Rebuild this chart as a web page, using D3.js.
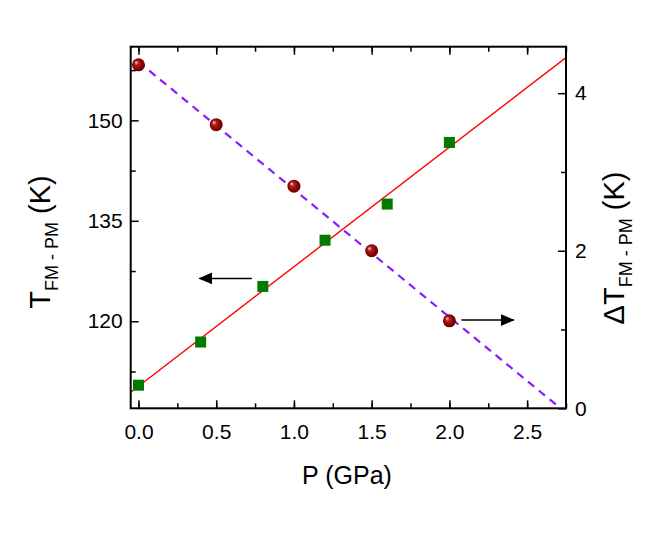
<!DOCTYPE html>
<html><head><meta charset="utf-8">
<script src="https://cdn.jsdelivr.net/npm/d3@7"></script>
<style>body{margin:0;background:#fff}svg{display:block}text{font-family:"Liberation Sans",Arial,sans-serif;fill:#000}</style>
</head><body><svg id="c" width="654" height="545"></svg>
<script>
// ---- data ----
const squareP = [0.0, 0.4, 0.8, 1.2, 1.6, 2.0];
const squareT = [110.45, 116.9, 125.2, 132.1, 137.5, 146.7];
const circleP = [0.0, 0.5, 1.0, 1.5, 2.0];
const circleDT = [4.36, 3.60, 2.82, 2.00, 1.11];
const xTicks = [0.0, 0.5, 1.0, 1.5, 2.0, 2.5];
const xTickLabels = ["0.0", "0.5", "1.0", "1.5", "2.0", "2.5"];
const yLeftTicks = [120, 135, 150];
const yRightTicks = [0, 2, 4];

const svg = d3.select("#c");
const L = 130.7, R = 566, T = 46.7, B = 408.3;
const x = d3.scaleLinear().domain([-0.05, 2.75]).range([L, R]);
const yL = d3.scaleLinear().domain([107, 161]).range([B, T]);
const yR = d3.scaleLinear().domain([0, 4.59]).range([B, T]);

function linfit(xs, ys) {
  const n = xs.length, mx = d3.mean(xs), my = d3.mean(ys);
  let sxy = 0, sxx = 0;
  for (let i = 0; i < n; i++) { sxy += (xs[i]-mx)*(ys[i]-my); sxx += (xs[i]-mx)**2; }
  const b = sxy/sxx; return {a: my - b*mx, b};
}

const defs = svg.append("defs");
defs.append("clipPath").attr("id","clip").append("rect")
  .attr("x", L).attr("y", T).attr("width", R-L).attr("height", B-T);
const g = defs.append("radialGradient").attr("id","ball")
  .attr("cx","0.5").attr("cy","0.5").attr("r","0.55").attr("fx","0.3").attr("fy","0.3");
g.append("stop").attr("offset","0").attr("stop-color","#f4d8e4");
g.append("stop").attr("offset","0.3").attr("stop-color","#b02020");
g.append("stop").attr("offset","0.7").attr("stop-color","#8a0000");
g.append("stop").attr("offset","1").attr("stop-color","#5a0000");
const mk = defs.append("marker").attr("id","arr").attr("viewBox","0 0 14 12")
  .attr("refX",13).attr("refY",6).attr("markerWidth",14).attr("markerHeight",12)
  .attr("markerUnits","userSpaceOnUse").attr("orient","auto");
mk.append("path").attr("d","M0,0 L14,6 L0,12 Z").attr("fill","#000");

// fit lines
const fs = linfit(squareP, squareT);
const fc = linfit(circleP, circleDT);
const plot = svg.append("g").attr("clip-path","url(#clip)");
const xd = x.domain();
plot.append("line")
  .attr("x1", x(xd[0])).attr("y1", yL(fs.a + fs.b*xd[0]))
  .attr("x2", x(xd[1])).attr("y2", yL(fs.a + fs.b*xd[1]))
  .attr("stroke","#ff0000").attr("stroke-width",1.4);
const xEnd = -fc.a/fc.b;
plot.append("line")
  .attr("x1", x(0)).attr("y1", yR(fc.a))
  .attr("x2", x(xEnd)).attr("y2", yR(0))
  .attr("stroke","#8a1cff").attr("stroke-width",2.2).attr("stroke-dasharray","8,6");

// squares
const sq = 11;
svg.append("g").selectAll("rect").data(squareP).join("rect")
  .attr("x", (d,i) => x(d) - sq/2).attr("y", (d,i) => yL(squareT[i]) - sq/2)
  .attr("width", sq).attr("height", sq).attr("fill","#007a00");
// circles
svg.append("g").selectAll("circle").data(circleP).join("circle")
  .attr("cx", d => x(d)).attr("cy", (d,i) => yR(circleDT[i])).attr("r", 6.5)
  .attr("fill","url(#ball)");

// arrows
svg.append("line").attr("x1", x(0.729)).attr("y1", yL(126.4)).attr("x2", x(0.392)).attr("y2", yL(126.4))
  .attr("stroke","#000").attr("stroke-width",1.5).attr("marker-end","url(#arr)");
svg.append("line").attr("x1", x(2.077)).attr("y1", yR(1.12)).attr("x2", x(2.414)).attr("y2", yR(1.12))
  .attr("stroke","#000").attr("stroke-width",1.5).attr("marker-end","url(#arr)");

// axes (inward ticks)
const fontSize = 21;
function styleAxis(sel) {
  sel.select(".domain").remove();
  sel.selectAll("line").attr("stroke","#000").attr("stroke-width",1.5);
  sel.selectAll("text").attr("font-size", fontSize).attr("font-family","Liberation Sans, Arial, sans-serif");
}
const xMinor = d3.range(0, 2.76, 0.25);
svg.append("g").attr("transform",`translate(0,${B})`)
  .call(d3.axisBottom(x).tickValues(xMinor).tickSize(-5).tickFormat("")).call(styleAxis);
svg.append("g").attr("transform",`translate(0,${B})`)
  .call(d3.axisBottom(x).tickValues(xTicks).tickSize(-8).tickPadding(16).tickFormat((d,i)=>xTickLabels[i])).call(styleAxis);
svg.append("g").attr("transform",`translate(0,${T})`)
  .call(d3.axisTop(x).tickValues(xMinor).tickSize(-5).tickFormat("")).call(styleAxis);
svg.append("g").attr("transform",`translate(0,${T})`)
  .call(d3.axisTop(x).tickValues(xTicks).tickSize(-8).tickFormat("")).call(styleAxis);

svg.append("g").attr("transform",`translate(${L},0)`)
  .call(d3.axisLeft(yL).tickValues([112.5,127.5,142.5,157.5]).tickSize(-5).tickFormat("")).call(styleAxis);
svg.append("g").attr("transform",`translate(${L},0)`)
  .call(d3.axisLeft(yL).tickValues(yLeftTicks).tickSize(-8).tickPadding(8).tickFormat(d3.format("d"))).call(styleAxis);
svg.append("g").attr("transform",`translate(${R},0)`)
  .call(d3.axisRight(yR).tickValues([1,3]).tickSize(-5).tickFormat("")).call(styleAxis);
svg.append("g").attr("transform",`translate(${R},0)`)
  .call(d3.axisRight(yR).tickValues(yRightTicks).tickSize(-8).tickPadding(9).tickFormat(d3.format("d"))).call(styleAxis);

// frame
svg.append("rect").attr("x",L).attr("y",T).attr("width",R-L).attr("height",B-T)
  .attr("fill","none").attr("stroke","#000").attr("stroke-width",2);

// titles
svg.append("text").attr("x", 347).attr("y", 484).attr("text-anchor","middle")
  .attr("font-size",25).text("P (GPa)");

const lt = svg.append("text").attr("transform","translate(50,242) rotate(-90)")
  .attr("text-anchor","middle").attr("font-size",29);
lt.append("tspan").text("T");
lt.append("tspan").attr("font-size",18).attr("dy",8).text("FM - PM");
lt.append("tspan").attr("dy",-8).text(" (K)");

const rt = svg.append("text").attr("transform","translate(624,248) rotate(-90)")
  .attr("text-anchor","middle").attr("font-size",29);
rt.append("tspan").text("ΔT");
rt.append("tspan").attr("font-size",18).attr("dy",8).text("FM - PM");
rt.append("tspan").attr("dy",-8).text(" (K)");
</script></body></html>
